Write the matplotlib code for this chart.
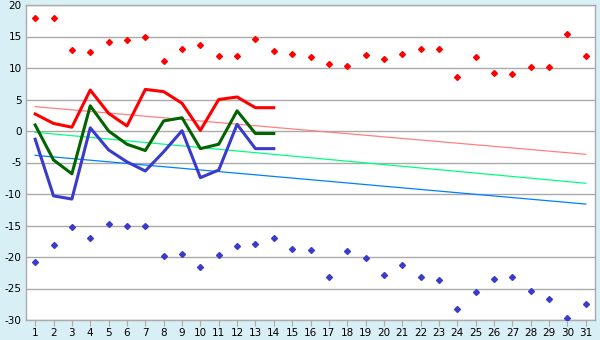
import matplotlib
matplotlib.use("Agg")
import matplotlib.pyplot as plt

plt.rcParams["axes.unicode_minus"] = False

days = list(range(1, 32))
line_days = list(range(1, 15))

high_points = [18.0, 18.0, 12.8, 12.5, 14.1, 14.4, 15.0, 11.1, 13.0, 13.6,
               11.9, 11.9, 14.6, 12.7, 12.3, 11.7, 10.6, 10.3, 12.0, 11.4,
               12.2, 13.0, 13.0, 8.5, 11.7, 9.2, 9.0, 10.1, 10.1, 15.4, 11.9]
low_points = [-20.8, -18.1, -15.3, -17.0, -14.8, -15.1, -15.1, -19.9, -19.6, -21.6,
              -19.7, -18.3, -18.0, -17.0, -18.8, -18.9, -23.2, -19.1, -20.2, -22.9,
              -21.3, -23.1, -23.7, -28.3, -25.6, -23.5, -23.1, -25.4, -26.7, -29.7, -27.4]

red_line = [2.7, 1.2, 0.6, 6.5, 2.8, 0.8, 6.6, 6.25, 4.4, 0.1, 5.0, 5.4, 3.7, 3.7]
green_line = [0.95, -4.6, -6.8, 4.0, 0.0, -2.1, -3.1, 1.6, 2.1, -2.8, -2.1, 3.2, -0.4, -0.4]
blue_line = [-1.3, -10.3, -10.8, 0.5, -3.0, -4.9, -6.35, -3.3, 0.05, -7.4, -6.2, 1.05, -2.8, -2.8]

trend_days = [1, 31]
red_trend = [3.86, -3.7]
green_trend = [-0.2, -8.3]
blue_trend = [-3.86, -11.6]

BG = "#d9eff6"
GRID = "#aaaaaa"

fig = plt.figure(figsize=(6.0, 3.4), dpi=100, facecolor=BG)
ax = fig.add_axes([26 / 600, 20 / 340, 569 / 600, 315 / 340])
ax.set_facecolor("white")

ax.plot(trend_days, red_trend, color="#ff8080", lw=0.9, zorder=2)
ax.plot(trend_days, green_trend, color="#00ff80", lw=0.9, zorder=2)
ax.plot(trend_days, blue_trend, color="#0080ff", lw=0.9, zorder=2)

ax.plot(line_days, red_line, color="#ff0000", lw=2.2, zorder=3)
ax.plot(line_days, green_line, color="#006400", lw=2.2, zorder=3)
ax.plot(line_days, blue_line, color="#3a3acc", lw=2.2, zorder=3)

ax.plot(days, high_points, ls="none", marker="D", ms=3.0, color="#ff0000", zorder=4)
ax.plot(days, low_points, ls="none", marker="D", ms=3.0, color="#3a3acc", zorder=4)

ax.set_xlim(0.5, 31.5)
ax.set_ylim(-30, 20)
ax.set_xticks(days)
ax.set_yticks(range(-30, 21, 5))
ax.yaxis.grid(True, color=GRID, lw=1.0)
ax.set_axisbelow(True)

for side in ax.spines.values():
    side.set_color(GRID)
    side.set_linewidth(1.0)

ax.tick_params(axis="x", length=4, color=GRID, labelsize=7.5, pad=2)
ax.tick_params(axis="y", length=0, labelsize=7.5, pad=3)

fig.savefig("out.png", dpi=100, facecolor=BG)
